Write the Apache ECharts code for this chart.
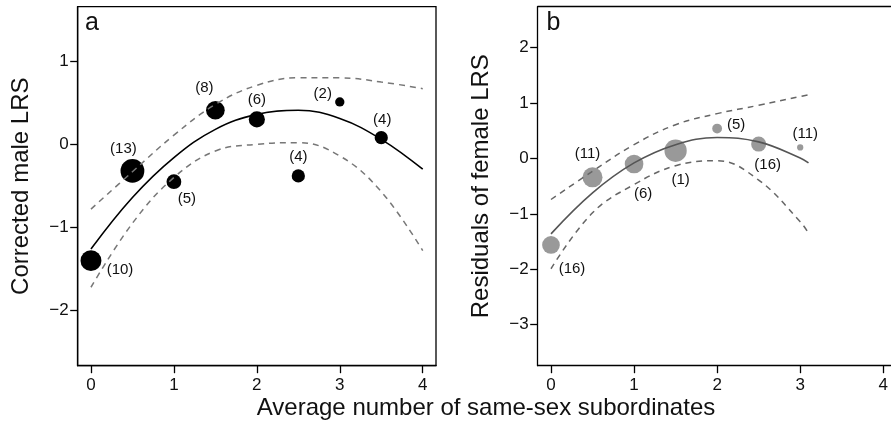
<!DOCTYPE html>
<html><head><meta charset="utf-8">
<script src="https://cdn.jsdelivr.net/npm/echarts@6/dist/echarts.min.js"></script>
<style>html,body{margin:0;padding:0;background:#fff}#c{width:891px;height:431px}</style>
</head><body><div id="c"></div>
<script>
// ---- data ----
const xTicks = [0, 1, 2, 3, 4];
const yTicksA = [-2, -1, 0, 1];
const yTicksB = [-3, -2, -1, 0, 1, 2];

// panel a: males
const maleX = [0, 0.5, 1, 1.5, 2, 2.5, 3, 3.5];
const maleY = [-1.40, -0.32, -0.45, 0.41, 0.30, -0.38, 0.51, 0.08];
const maleN = [10, 13, 5, 8, 6, 4, 2, 4];
const fitXA = [0, 0.5, 1, 1.5, 2, 2.5, 3, 3.5, 4];
const fitA = [-1.26, -0.64, -0.16, 0.18, 0.36, 0.41, 0.31, 0.06, -0.30];
const upperA = [-0.78, -0.33, 0.11, 0.48, 0.71, 0.80, 0.80, 0.75, 0.67];
const lowerA = [-1.72, -0.95, -0.40, -0.08, 0.00, 0.02, -0.14, -0.57, -1.28];

// panel b: females
const femaleX = [0, 0.5, 1, 1.5, 2, 2.5, 3];
const femaleY = [-1.56, -0.34, -0.10, 0.14, 0.54, 0.26, 0.20];
const femaleN = [16, 11, 6, 1, 5, 16, 11];
const femaleWeight = [7.2, 9.2, 8.0, 11.4, 2.2, 5.2, 0.9];
const fitXB = [0, 0.5, 1, 1.5, 2, 2.5, 3, 3.1];
const fitB = [-1.36, -0.62, -0.08, 0.25, 0.38, 0.30, 0.01, -0.08];
const upperB = [-0.74, -0.23, 0.25, 0.61, 0.81, 0.96, 1.12, 1.15];
const lowerB = [-1.99, -0.98, -0.47, -0.13, -0.04, -0.39, -1.14, -1.35];

// ---- styling ----
const FONT = '"Liberation Sans", Arial, Helvetica, sans-serif';
const labelOffA = [[29, 9], [-9, -22], [13, 17], [-11, -22], [0, -20], [0, -19], [-17, -8], [1, -18]];
const labelOffB = [[21, 24], [-5, -23], [9, 30], [5, 29], [19, -4], [9, 21], [5, -14]];
const sizeOf = w => 6.6 * Math.sqrt(w);
const minus = v => String(v).replace('-', '\u2212');
const AXIS_LINE = { show: true, onZero: false, lineStyle: { color: '#000', width: 1.3 } };

function pairs(xs, ys) { return xs.map((x, i) => [x, ys[i]]); }

function xAxisFor(idx, max) {
  return {
    type: 'value', gridIndex: idx, min: -0.16, max: max, position: 'bottom',
    axisLine: AXIS_LINE,
    axisTick: { show: true, customValues: xTicks, length: 7.5, lineStyle: { color: '#000', width: 1.3 } },
    axisLabel: { customValues: xTicks, margin: 11, fontSize: 17, color: '#111', fontFamily: FONT, formatter: minus },
    splitLine: { show: false }
  };
}
function yAxisFor(idx, min, max, ticks, name) {
  return {
    type: 'value', gridIndex: idx, min: min, max: max,
    name: name, nameLocation: 'middle', nameGap: 44, nameRotate: 90,
    nameTextStyle: { fontSize: 24, color: '#111', fontFamily: FONT },
    axisLine: AXIS_LINE,
    axisTick: { show: true, customValues: ticks, length: 7.5, lineStyle: { color: '#000', width: 1.3 } },
    axisLabel: { customValues: ticks, margin: 9, fontSize: 17, color: '#111', fontFamily: FONT, formatter: minus },
    splitLine: { show: false }
  };
}
function scatterFor(idx, xs, ys, ns, weights, offs, color) {
  return {
    type: 'scatter', xAxisIndex: idx, yAxisIndex: idx, z: 2,
    symbol: 'circle',
    data: xs.map((x, i) => ({
      value: [x, ys[i]],
      symbolSize: sizeOf(weights[i]),
      label: { offset: offs[i], formatter: '(' + ns[i] + ')' }
    })),
    itemStyle: { color: color, opacity: 1 },
    label: { show: true, position: 'inside', fontSize: 15, color: '#111', fontFamily: FONT },
    emphasis: { disabled: true }, animation: false
  };
}
function lineFor(idx, xs, ys, color, dashed) {
  return {
    type: 'line', xAxisIndex: idx, yAxisIndex: idx, z: 4,
    data: pairs(xs, ys), smooth: 0.4, showSymbol: false, symbol: 'none',
    lineStyle: { color: color, width: dashed ? 1.5 : 1.6, type: dashed ? [6, 5] : 'solid' },
    emphasis: { disabled: true }, animation: false
  };
}

const chart = echarts.init(document.getElementById('c'), null, { renderer: 'canvas' });
chart.setOption({
  animation: false,
  backgroundColor: '#fff',
  grid: [
    { left: 77.7, top: 6.7, width: 358.3, height: 359, show: true, borderColor: '#000', borderWidth: 1.3, backgroundColor: 'transparent' },
    { left: 537.7, top: 6.7, right: 0, height: 359, show: false }
  ],
  xAxis: [
    xAxisFor(0, 4.16),
    xAxisFor(1, 4.09),
    { type: 'value', gridIndex: 1, min: -0.16, max: 4.09, position: 'top', axisLine: AXIS_LINE,
      axisTick: { show: false }, axisLabel: { show: false }, splitLine: { show: false } }
  ],
  yAxis: [
    yAxisFor(0, -2.664, 1.656, yTicksA, 'Corrected male LRS'),
    yAxisFor(1, -3.74, 2.74, yTicksB, 'Residuals of female LRS')
  ],
  series: [
    scatterFor(0, maleX, maleY, maleN, maleN, labelOffA, '#000'),
    lineFor(0, fitXA, fitA, '#000', false),
    lineFor(0, fitXA, upperA, '#777', true),
    lineFor(0, fitXA, lowerA, '#777', true),
    scatterFor(1, femaleX, femaleY, femaleN, femaleWeight, labelOffB, '#999'),
    lineFor(1, fitXB, fitB, '#555', false),
    lineFor(1, fitXB, upperB, '#666', true),
    lineFor(1, fitXB, lowerB, '#666', true)
  ],
  graphic: [
    { type: 'text', x: 85, y: 23, style: { text: 'a', font: '25px ' + FONT, fill: '#111', textAlign: 'left', textVerticalAlign: 'middle' } },
    { type: 'text', x: 546.5, y: 23, style: { text: 'b', font: '25px ' + FONT, fill: '#111', textAlign: 'left', textVerticalAlign: 'middle' } },
    { type: 'text', x: 486, y: 408, style: { text: 'Average number of same-sex subordinates', font: '24px ' + FONT, fill: '#111', textAlign: 'center', textVerticalAlign: 'middle' } }
  ]
});
</script>
</body></html>
